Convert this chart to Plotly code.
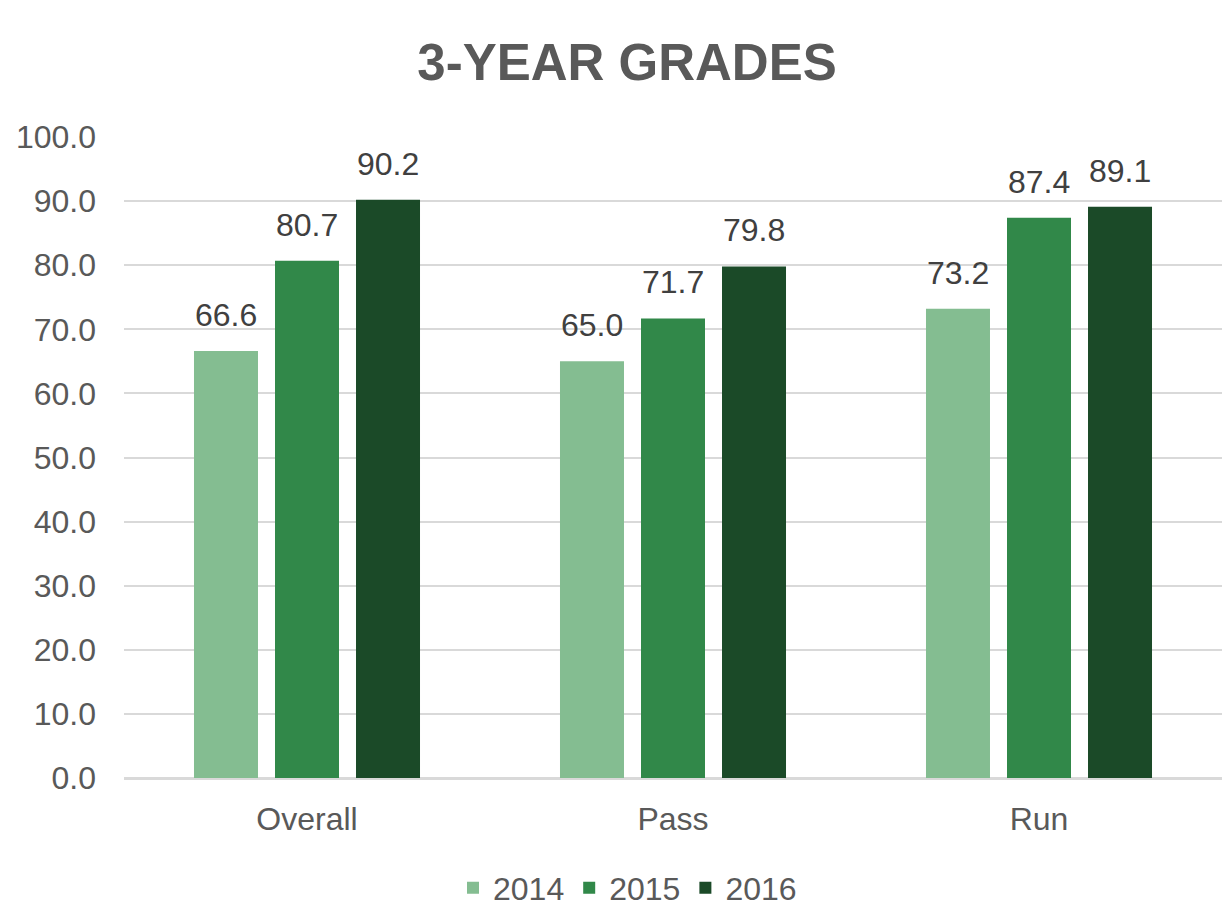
import plotly.graph_objects as go

categories = ["Overall", "Pass", "Run"]
years = ["2014", "2015", "2016"]
values_2014 = [66.6, 65.0, 73.2]
values_2015 = [80.7, 71.7, 87.4]
values_2016 = [90.2, 79.8, 89.1]
series = [values_2014, values_2015, values_2016]
colors = ["#84BD91", "#318849", "#1B4A28"]
y_ticks = [0, 10, 20, 30, 40, 50, 60, 70, 80, 90, 100]

FONT = "Liberation Sans, Arial, sans-serif"
W, H = 1228, 916
ml, mr, mt, mb = 124, 6, 137, 138
bargap = 0.336
plot_w = W - ml - mr
slot = plot_w / len(categories) * (1 - bargap) / len(years)

fig = go.Figure()
annotations = []
for i, (yr, vals, col) in enumerate(zip(years, series, colors)):
    fig.add_trace(go.Bar(
        x=categories, y=vals, name=yr, marker=dict(color=col, line=dict(width=0)),
        hoverinfo="x+y+name",
    ))
    for c, v in zip(categories, vals):
        annotations.append(dict(
            x=c, y=v, xref="x", yref="y", text=f"{v:.1f}", showarrow=False,
            xshift=(i - 1) * slot, yshift=16, yanchor="bottom",
            font=dict(family=FONT, size=32, color="#404040"),
        ))

fig.update_layout(
    width=W, height=H,
    margin=dict(l=ml, r=mr, t=mt, b=mb, autoexpand=False),
    paper_bgcolor="white", plot_bgcolor="white",
    barmode="group", bargap=bargap, bargroupgap=0.21,
    title=dict(text="<b>3-YEAR GRADES</b>", x=627 / W, xanchor="center", xref="container",
               y=1 - 62 / H, yanchor="middle", yref="container",
               font=dict(family=FONT, size=51, color="#595959")),
    font=dict(family=FONT, size=32, color="#595959"),
    xaxis=dict(showgrid=False, showline=True, linecolor="#D9D9D9", linewidth=2,
               tickfont=dict(family=FONT, size=32, color="#595959"),
               ticks="", ticklabelstandoff=12),
    yaxis=dict(range=[0, 100], tickvals=y_ticks, ticktext=[f"{t:.1f}" for t in y_ticks],
               showgrid=True, gridcolor="#D9D9D9", gridwidth=1.5,
               zeroline=True, zerolinecolor="#D9D9D9", zerolinewidth=2,
               tickfont=dict(family=FONT, size=32, color="#595959"),
               ticks="", ticklabelstandoff=27),
    legend=dict(orientation="h", x=0.511, xanchor="center", xref="container",
                y=1 - 888 / H, yanchor="middle", yref="container",
                font=dict(family=FONT, size=32, color="#595959"),
                itemwidth=30, traceorder="normal"),
    annotations=annotations,
    showlegend=True,
)

fig.write_html("out.html", config={"displayModeBar": False},
               post_script="document.body.style.margin='0';document.body.style.overflow='hidden';")
